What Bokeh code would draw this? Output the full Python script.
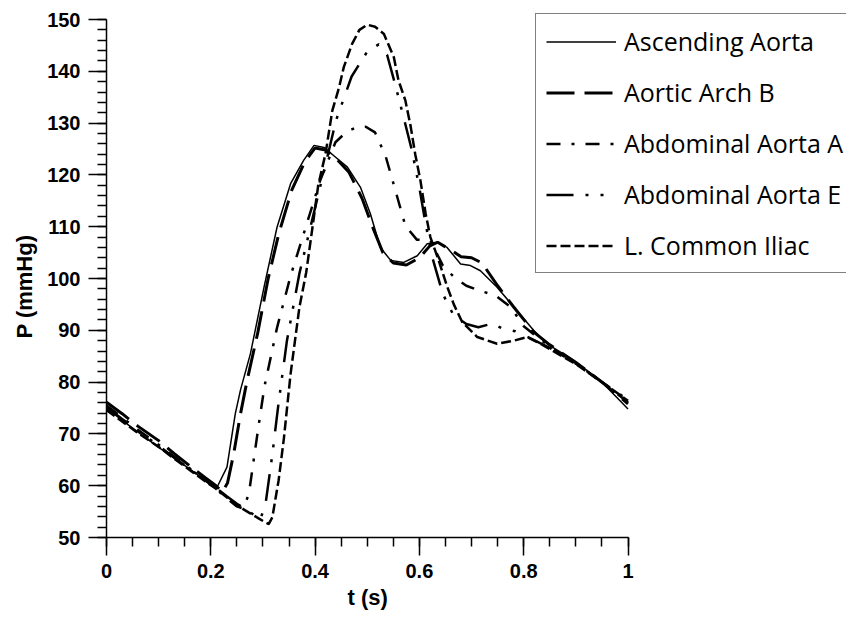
from bokeh.plotting import figure
from bokeh.models import Range1d, FixedTicker, CustomJSTickFormatter, Legend, LegendItem, Title
from bokeh.embed import file_html
from bokeh.resources import INLINE

# ---- data ----
asc_t = [0, 0.03, 0.06, 0.1, 0.13, 0.16, 0.19, 0.212, 0.231, 0.247, 0.257, 0.276, 0.302, 0.327, 0.353,
         0.378, 0.398, 0.417, 0.436, 0.462, 0.487, 0.506, 0.525, 0.545, 0.57, 0.596, 0.615, 0.634, 0.653,
         0.679, 0.698, 0.717, 0.749, 0.781, 0.819, 0.845, 0.896, 0.947, 1.0]
asc_p = [75.0, 72.6, 70.4, 67.4, 65.3, 63.2, 61.0, 59.7, 63.6, 73.9, 78.5, 85.5, 98.3, 109.9, 118.3,
         122.8, 125.7, 125.3, 123.7, 121.5, 117.6, 112.5, 106.0, 103.5, 103.1, 104.4, 106.7, 107.0, 106.0,
         102.8, 102.5, 101.5, 98.3, 94.5, 90.0, 87.4, 84.2, 80.3, 74.8]

aab_t = [0, 0.03, 0.06, 0.1, 0.13, 0.16, 0.19, 0.21, 0.222, 0.232, 0.244, 0.257, 0.27, 0.29, 0.31, 0.33,
         0.355, 0.38, 0.40, 0.42, 0.44, 0.465, 0.49, 0.51, 0.53, 0.55, 0.575, 0.60, 0.62, 0.635, 0.66,
         0.68, 0.70, 0.72, 0.75, 0.78, 0.82, 0.85, 0.9, 0.95, 1.0]
aab_p = [76.1, 73.9, 71.5, 68.7, 66.2, 63.8, 61.5, 60.0, 58.8, 60.5, 66.2, 73.9, 80.5, 89.5, 100.0, 108.5,
         117.0, 122.5, 125.2, 124.8, 123.2, 120.5, 115.5, 110.0, 105.0, 103.0, 102.6, 104.0, 106.3, 107.0, 105.5,
         104.2, 104.0, 103.0, 98.6, 94.6, 89.6, 87.2, 83.8, 80.0, 75.8]

abda_t = [0, 0.03, 0.06, 0.1, 0.13, 0.16, 0.19, 0.21, 0.23, 0.25, 0.262, 0.273, 0.283, 0.293, 0.303,
          0.327, 0.353, 0.37, 0.39, 0.41, 0.439, 0.46, 0.48, 0.497, 0.515, 0.535, 0.554, 0.573, 0.595,
          0.621, 0.645, 0.666, 0.69, 0.72, 0.745, 0.775, 0.80, 0.85, 0.9, 0.95, 1.0]
abda_p = [75.5, 73.2, 70.8, 67.9, 65.6, 63.3, 61.0, 59.4, 57.6, 56.0, 55.6, 58.4, 65.5, 72.5, 79.2,
          90.5, 100.5, 106.0, 112.5, 119.0, 126.3, 128.3, 129.2, 129.3, 128.2, 123.7, 117.0, 110.2, 107.5,
          107.3, 102.5, 100.3, 98.6, 97.5, 96.8, 94.5, 90.8, 86.8, 83.6, 80.0, 76.1]

abde_t = [0, 0.03, 0.06, 0.1, 0.13, 0.16, 0.19, 0.21, 0.23, 0.25, 0.27, 0.285, 0.295, 0.305, 0.318,
          0.33, 0.346, 0.37, 0.396, 0.42, 0.44, 0.47, 0.50, 0.522, 0.538, 0.554, 0.57, 0.585, 0.60,
          0.612, 0.625, 0.645, 0.665, 0.69, 0.713, 0.74, 0.76, 0.784, 0.81, 0.85, 0.9, 0.95, 1.0]
abde_p = [75.2, 72.9, 70.6, 67.7, 65.4, 63.2, 61.0, 59.6, 58.0, 56.5, 55.3, 54.2, 53.5, 56.5, 66.0,
          76.0, 88.0, 101.0, 112.0, 122.0, 130.5, 139.0, 143.8, 145.2, 143.2, 137.3, 131.0, 125.0, 117.5,
          110.5, 104.0, 97.0, 93.0, 91.2, 90.6, 91.3, 90.3, 89.8, 88.6, 86.6, 83.6, 80.0, 76.6]

ili_t = [0, 0.03, 0.06, 0.1, 0.13, 0.16, 0.19, 0.21, 0.23, 0.25, 0.27, 0.29, 0.303, 0.311, 0.318, 0.33,
         0.34, 0.353, 0.37, 0.383, 0.396, 0.406, 0.42, 0.433, 0.446, 0.455, 0.471, 0.485, 0.50, 0.515,
         0.532, 0.551, 0.56, 0.573, 0.583, 0.592, 0.602, 0.612, 0.621, 0.637, 0.653, 0.666, 0.682, 0.711,
         0.749, 0.781, 0.807, 0.832, 0.87, 0.9, 0.95, 1.0]
ili_p = [74.6, 72.4, 70.2, 67.5, 65.2, 63.0, 60.8, 59.4, 57.8, 56.2, 55.0, 53.8, 53.0, 52.6, 53.9, 61.0,
         69.0, 81.6, 94.5, 101.2, 110.6, 118.0, 124.1, 132.4, 136.9, 140.8, 145.3, 148.0, 149.0, 148.6,
         147.2, 142.7, 138.2, 134.4, 129.5, 124.0, 118.9, 112.5, 108.0, 103.5, 98.5, 95.0, 91.6, 88.7,
         87.4, 88.0, 88.7, 87.4, 85.2, 83.5, 80.0, 76.4]

labels = ["Ascending Aorta", "Aortic Arch B", "Abdominal Aorta A", "Abdominal Aorta E", "L. Common Iliac"]
x_ticks = [0, 0.2, 0.4, 0.6, 0.8, 1]
y_ticks = [50, 60, 70, 80, 90, 100, 110, 120, 130, 140, 150]
x_title = "t (s)"
y_title = "P (mmHg)"

# layout: 521.5 px per second, 5.18 px per mmHg; frame extends past the axes so the legend fits
FRAME_W, FRAME_H = 740, 537
x_end = FRAME_W / 521.5
y_end = 50 + FRAME_H / 5.18

p = figure(frame_width=FRAME_W, frame_height=FRAME_H, x_range=Range1d(0, x_end), y_range=Range1d(50, y_end),
           output_backend="svg", toolbar_location=None,
           min_border_left=106, min_border_right=0, min_border_top=0, min_border_bottom=78)
p.outline_line_color = None
p.xgrid.visible = False
p.ygrid.visible = False
p.background_fill_color = "white"
p.border_fill_color = "white"

p.xaxis.ticker = FixedTicker(ticks=x_ticks, minor_ticks=[i * 0.05 for i in range(21)])
p.yaxis.ticker = FixedTicker(ticks=y_ticks, minor_ticks=list(range(50, 151, 2)))
p.xaxis.formatter = CustomJSTickFormatter(code="return tick.toString();")
p.xaxis.bounds = (0, 1)
p.yaxis.bounds = (50, 150)

for ax in (p.xaxis[0], p.yaxis[0]):
    ax.axis_line_width = 1.5
    ax.axis_line_color = "black"
    ax.major_tick_line_width = 1.5
    ax.minor_tick_line_width = 1.5
    ax.major_tick_line_color = "black"
    ax.minor_tick_line_color = "black"
    ax.major_tick_out = 18
    ax.major_tick_in = 0
    ax.minor_tick_out = 9
    ax.minor_tick_in = 0
    ax.major_label_text_font = "Liberation Sans"
    ax.major_label_text_font_style = "bold"
    ax.major_label_text_font_size = "20px"
    ax.major_label_text_color = "black"
    ax.major_label_standoff = 8

# axis titles, centred on the axis extent (0..1, 50..150) rather than on the wider frame
xt = Title(text=x_title, align="left", offset=241, text_font="Liberation Sans",
           text_font_style="bold", text_font_size="22px", text_color="black", standoff=4)
p.add_layout(xt, "below")
yt = Title(text=y_title, align="left", offset=199, text_font="Liberation Sans",
           text_font_style="bold", text_font_size="22px", text_color="black", standoff=16)
p.add_layout(yt, "left")

r1 = p.line(asc_t, asc_p, line_color="black", line_width=1.5)
r2 = p.line(aab_t, aab_p, line_color="black", line_width=3, line_dash="28 10")
r3 = p.line(abda_t, abda_p, line_color="black", line_width=2.5, line_dash="14 11 3 11")
r4 = p.line(abde_t, abde_p, line_color="black", line_width=2.5, line_dash="27 12 3 12 3 13")
r5 = p.line(ili_t, ili_p, line_color="black", line_width=2.5, line_dash="10 4")

legend = Legend(items=[LegendItem(label=l, renderers=[r]) for l, r in zip(labels, [r1, r2, r3, r4, r5])],
                location=(429, 264))
legend.label_text_font = "Open Sans"
legend.label_text_font_size = "25px"
legend.label_text_color = "black"
legend.glyph_width = 70
legend.glyph_height = 31
legend.label_height = 31
legend.label_width = 240
legend.spacing = 17
legend.padding = 10
legend.margin = 0
legend.label_standoff = 8
legend.border_line_color = "black"
legend.border_line_width = 1.5
legend.background_fill_color = "white"
legend.background_fill_alpha = 1.0
p.add_layout(legend, "center")

open("out.html", "w").write(file_html(p, INLINE))
